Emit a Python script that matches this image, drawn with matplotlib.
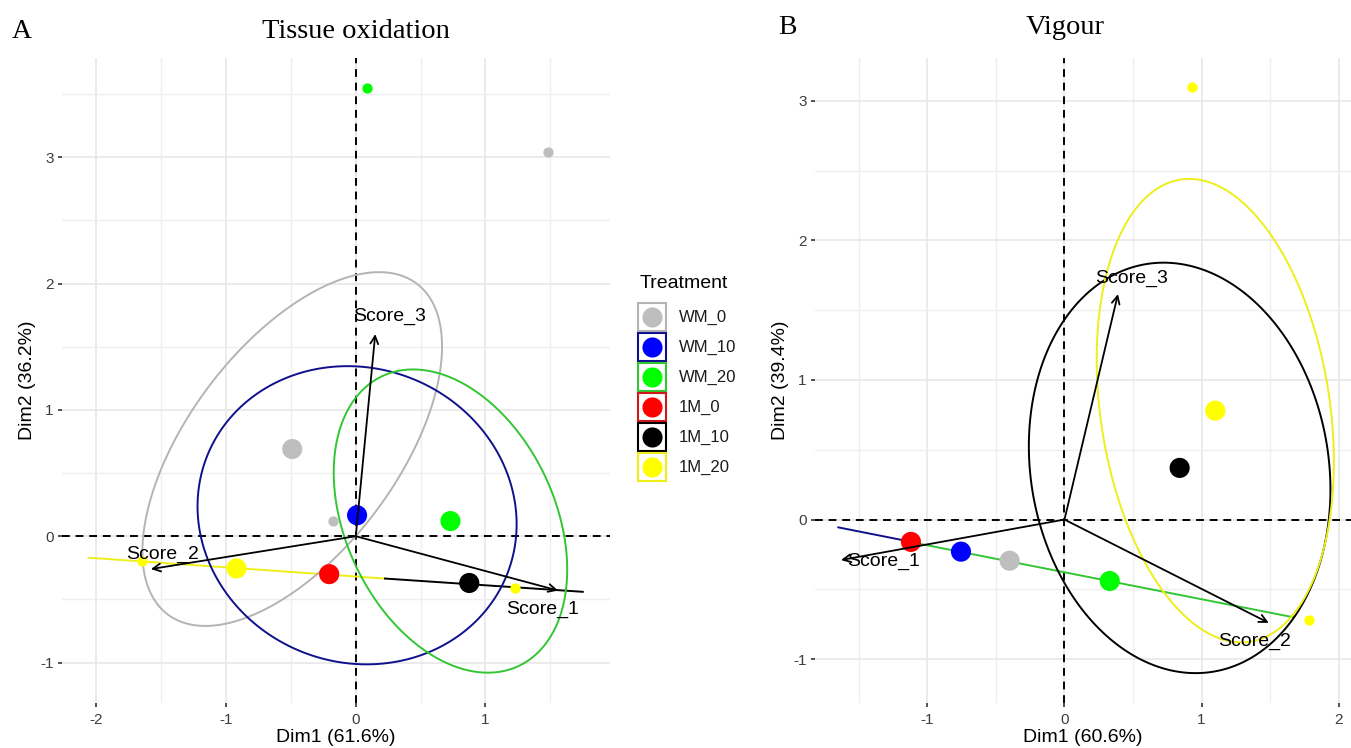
import numpy as np
import matplotlib.pyplot as plt
from matplotlib.patches import Rectangle, Polygon

plt.rcParams['font.family'] = ['Liberation Sans', 'DejaVu Sans']
plt.rcParams['axes.unicode_minus'] = False

# treatments and colours
groups = ["WM_0", "WM_10", "WM_20", "1M_0", "1M_10", "1M_20"]
point_cols = ["#BEBEBE", "#0000FF", "#00FF00", "#FF0000", "#000000", "#FFFF00"]
line_cols = ["#B4B4B4", "#10108C", "#33C633", "#D01818", "#000000", "#EEEE1A"]

# ---- A: tissue oxidation ----
tox_mean_x = [-0.49, 0.01, 0.73, -0.205, 0.875, -0.92]
tox_mean_y = [0.69, 0.166, 0.12, -0.30, -0.37, -0.255]
tox_ind_group = ["WM_20", "WM_0", "WM_0", "1M_20", "1M_20"]
tox_ind_x = [0.085, 1.485, -0.175, -1.65, 1.225]
tox_ind_y = [3.55, 3.04, 0.12, -0.20, -0.41]
# confidence ellipses: half extent in x / y and correlation
tox_ell_group = ["WM_0", "WM_10", "WM_20"]
tox_ell_sx = [1.155, 1.23, 0.90]
tox_ell_sy = [1.40, 1.18, 1.20]
tox_ell_r = [0.58, -0.06, -0.32]
# collapsed ellipses (flat lines)
tox_seg_group = ["1M_20", "1M_10"]
tox_seg_x0 = [-2.06, 0.225]
tox_seg_y0 = [-0.17, -0.335]
tox_seg_x1 = [0.225, 1.75]
tox_seg_y1 = [-0.335, -0.44]
tox_var = ["Score_1", "Score_2", "Score_3"]
tox_var_x = [1.56, -1.58, 0.15]
tox_var_y = [-0.43, -0.26, 1.60]
tox_lab_x = [1.44, -1.49, 0.26]
tox_lab_y = [-0.58, -0.14, 1.74]

# ---- B: vigour ----
vig_mean_x = [-0.40, -0.755, 0.33, -1.12, 0.84, 1.10]
vig_mean_y = [-0.295, -0.23, -0.44, -0.16, 0.37, 0.78]
vig_ind_group = ["1M_20", "1M_20"]
vig_ind_x = [0.93, 1.78]
vig_ind_y = [3.10, -0.72]
vig_ell_group = ["1M_10", "1M_20"]
vig_ell_sx = [1.10, 0.865]
vig_ell_sy = [1.47, 1.66]
vig_ell_r = [-0.106, -0.22]
vig_seg_group = ["WM_10", "WM_20"]
vig_seg_x0 = [-1.65, -1.05]
vig_seg_y0 = [-0.056, -0.175]
vig_seg_x1 = [-1.10, 1.67]
vig_seg_y1 = [-0.163, -0.70]
vig_var = ["Score_1", "Score_2", "Score_3"]
vig_var_x = [-1.63, 1.49, 0.39]
vig_var_y = [-0.29, -0.74, 1.615]
vig_lab_x = [-1.32, 1.39, 0.49]
vig_lab_y = [-0.30, -0.87, 1.73]


def ellipse_xy(cx, cy, sx, sy, r, n=300):
    t = np.linspace(0, 2 * np.pi, n, endpoint=False)
    x = cx + sx * np.cos(t)
    y = cy + sy * (r * np.cos(t) + np.sqrt(1 - r * r) * np.sin(t))
    return np.column_stack([x, y])


def draw_panel(ax, mx, my, ig, ix, iy, eg, esx, esy, er,
               sg, sx0, sy0, sx1, sy1, var, vx, vy, lx, ly,
               xlim, ylim, xticks, yticks, xlab, ylab):
    ax.set_xticks(xticks)
    ax.set_yticks(yticks)
    ax.set_xticks(np.arange(xticks[0] - 0.5, xlim[1], 1.0), minor=True)
    ax.set_yticks(np.arange(yticks[0] - 0.5, ylim[1], 1.0), minor=True)
    ax.set_xlim(xlim)
    ax.set_ylim(ylim)
    ax.grid(True, which='major', color='#E8E8E8', lw=1.2)
    ax.grid(True, which='minor', color='#EFEFEF', lw=1.0)
    ax.set_axisbelow(True)
    for s in ax.spines.values():
        s.set_visible(False)
    ax.tick_params(which='major', length=3, width=1.2, color='#333333',
                   labelsize=11, labelcolor='#3D3D3D', pad=3)
    ax.tick_params(axis='x', which='major', pad=4)
    ax.tick_params(which='minor', length=0)
    ax.set_xlabel(xlab, fontsize=14, labelpad=2)
    ax.set_ylabel(ylab, fontsize=14, labelpad=3)

    ax.axhline(0, color='black', ls=(0, (4, 3)), lw=1.4, zorder=1)
    ax.axvline(0, color='black', ls=(0, (4, 3)), lw=1.4, zorder=1)

    for g, x0, y0, x1, y1 in zip(sg, sx0, sy0, sx1, sy1):
        k = groups.index(g)
        ax.plot([x0, x1], [y0, y1], color=line_cols[k], lw=1.4, zorder=2)
    for g, a, b, r in zip(eg, esx, esy, er):
        k = groups.index(g)
        pts = ellipse_xy(mx[k], my[k], a, b, r)
        ax.add_patch(Polygon(pts, closed=True, fill=False,
                             edgecolor=line_cols[k], lw=1.4, zorder=2))

    for g, x, y in zip(ig, ix, iy):
        k = groups.index(g)
        ax.scatter(x, y, s=55, color=point_cols[k], zorder=3, linewidths=0)
    ax.scatter(mx, my, s=210, c=point_cols, zorder=4, linewidths=0)

    for name, x, y, tx, ty in zip(var, vx, vy, lx, ly):
        ax.annotate('', xy=(x, y), xytext=(0, 0),
                    arrowprops=dict(arrowstyle='->', color='black', lw=1.3,
                                    mutation_scale=14, shrinkA=0, shrinkB=0),
                    zorder=5)
        ax.text(tx, ty, name, ha='center', va='center', fontsize=14,
                color='black', zorder=6)


fig = plt.figure(figsize=(13.51, 7.48), dpi=100)
W, H = 1351, 748

axA = fig.add_axes([62 / W, (H - 703) / H, 548 / W, 645 / H])
draw_panel(axA, tox_mean_x, tox_mean_y, tox_ind_group, tox_ind_x, tox_ind_y,
           tox_ell_group, tox_ell_sx, tox_ell_sy, tox_ell_r,
           tox_seg_group, tox_seg_x0, tox_seg_y0, tox_seg_x1, tox_seg_y1,
           tox_var, tox_var_x, tox_var_y, tox_lab_x, tox_lab_y,
           (-2.265, 1.96), (-1.32, 3.785), [-2, -1, 0, 1], [-1, 0, 1, 2, 3],
           "Dim1 (61.6%)", "Dim2 (36.2%)")

axB = fig.add_axes([815 / W, (H - 703) / H, 536 / W, 645 / H])
draw_panel(axB, vig_mean_x, vig_mean_y, vig_ind_group, vig_ind_x, vig_ind_y,
           vig_ell_group, vig_ell_sx, vig_ell_sy, vig_ell_r,
           vig_seg_group, vig_seg_x0, vig_seg_y0, vig_seg_x1, vig_seg_y1,
           vig_var, vig_var_x, vig_var_y, vig_lab_x, vig_lab_y,
           (-1.82, 2.09), (-1.314, 3.306), [-1, 0, 1, 2], [-1, 0, 1, 2, 3],
           "Dim1 (60.6%)", "Dim2 (39.4%)")

# panel letters and titles
serif = ['Liberation Serif', 'DejaVu Serif']
fig.text(12 / W, 1 - 31 / H, "A", family=serif, fontsize=20, va='center')
fig.text(356 / W, 1 - 31 / H, "Tissue oxidation", family=serif, fontsize=20.5,
         ha='center', va='center')
fig.text(778 / W, 1 - 27 / H, "B", family=serif, fontsize=20, va='center')
fig.text(1065 / W, 1 - 27 / H, "Vigour", family=serif, fontsize=20.5,
         ha='center', va='center')

# legend drawn in pixel units
axL = fig.add_axes([630 / W, (H - 495) / H, 110 / W, 230 / H])
axL.set_xlim(0, 110)
axL.set_ylim(230, 0)
axL.axis('off')
axL.text(10, 18, "Treatment", fontsize=14, va='center', ha='left')
for i, g in enumerate(groups):
    y0 = 38 + 30 * i
    axL.add_patch(Rectangle((7.5, y0), 28, 28, fill=False,
                            edgecolor=line_cols[i], lw=1.5))
    axL.scatter(21.5, y0 + 14, s=210, color=point_cols[i], linewidths=0)
    axL.text(49, y0 + 14.5, g, fontsize=12, va='center', ha='left',
             color='#1A1A1A')

fig.savefig("out.png", dpi=100)
